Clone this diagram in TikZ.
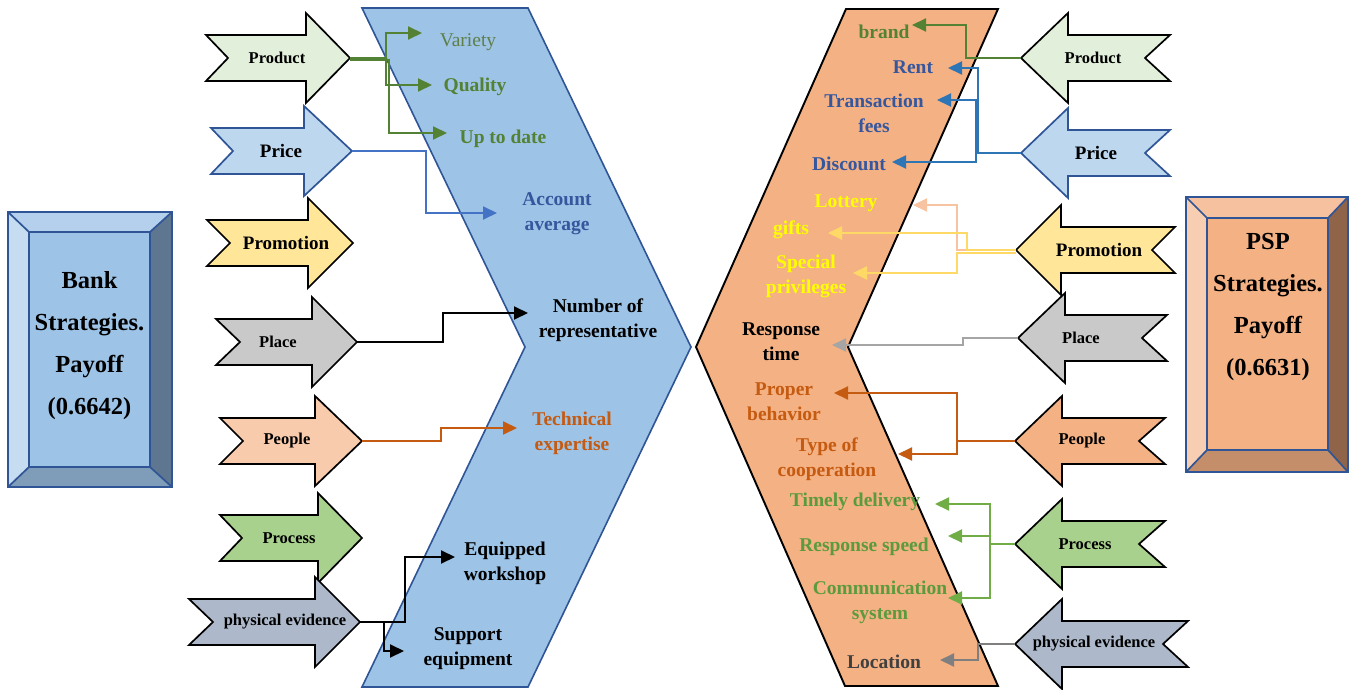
\documentclass[tikz,border=0pt]{standalone}
\usepackage{fontspec}
\setmainfont{Liberation Serif}
\usetikzlibrary{arrows.meta}
\definecolor{cBlueFill}{HTML}{9DC3E6}
\definecolor{cBlueLine}{HTML}{2F5597}
\definecolor{cOrFill}{HTML}{F4B183}
\definecolor{cGreenD}{HTML}{548235}
\definecolor{cVariety}{HTML}{5E7F4A}
\definecolor{cBlueTxt}{HTML}{36579E}
\definecolor{cPriceL}{HTML}{4472C4}
\definecolor{cPriceR}{HTML}{2E75B6}
\definecolor{cOrange}{HTML}{C55A11}
\definecolor{cGreenR}{HTML}{5B9B3D}
\definecolor{cGreenC}{HTML}{70AD47}
\definecolor{cYellowT}{HTML}{FFFF00}
\definecolor{cYellowC}{HTML}{FFD966}
\definecolor{cPeach}{HTML}{F7C3A0}
\definecolor{cGrayL}{HTML}{A5A5A5}
\definecolor{cGrayD}{HTML}{7F7F7F}
\definecolor{cLoc}{HTML}{404040}
\definecolor{fProduct}{HTML}{E2EFDA}
\definecolor{fPrice}{HTML}{BDD7EE}
\definecolor{fPromo}{HTML}{FFE699}
\definecolor{fPlace}{HTML}{C9C9C9}
\definecolor{fPeopleL}{HTML}{F8CBAD}
\definecolor{fPeopleR}{HTML}{F4B183}
\definecolor{fProcess}{HTML}{A9D18E}
\definecolor{fPhys}{HTML}{ADB9CA}
\definecolor{bTopL}{HTML}{B4D0EC}
\definecolor{bLeftL}{HTML}{C6DCF1}
\definecolor{bRightL}{HTML}{5F7690}
\definecolor{bBotL}{HTML}{7F9CB8}
\definecolor{bTopR}{HTML}{F6C19E}
\definecolor{bLeftR}{HTML}{F8CEB2}
\definecolor{bRightR}{HTML}{8F6449}
\definecolor{bBotR}{HTML}{C38E69}
% #1 name, #2 back x, #3 notch x, #4 head base x, #5 tip x, #6 centre y, #7 style, #8 text x, #9 text
\newcommand{\FatArrow}[9]{%
  \draw[#7] ({#2},{#6-23}) -- ({#4},{#6-23}) -- ({#4},{#6-45}) -- ({#5},{#6})
    -- ({#4},{#6+45}) -- ({#4},{#6+23}) -- ({#2},{#6+23}) -- ({#3},{#6}) -- cycle;
  \coordinate (#1) at ({#5},{#6});
  \node[albl] (#1t) at ({#8},{#6}) {#9};
}
\begin{document}
\begin{tikzpicture}[x=1pt,y=-1pt,
  lbl/.style={font=\bfseries\fontsize{19.5}{25}\selectfont, align=center, inner sep=0pt},
  albl/.style={font=\bfseries\fontsize{16.5}{20}\selectfont, inner sep=0pt},
  boxtxt/.style={font=\bfseries\fontsize{24.5}{42}\selectfont, align=center, inner sep=0pt},
  con/.style={line width=2pt, -{Triangle[length=14pt,width=13pt]}},
  shp/.style={line width=1.7pt, line join=miter},
]
\useasboundingbox (0,0) rectangle (1353,690);

% ---------- chevrons ----------
\draw[fill=cBlueFill, draw=cBlueLine, line width=1.6pt, line join=miter]
  (362,8) -- (528,8) -- (691,347) -- (528,687) -- (362,687) -- (525,347) -- cycle;
\draw[fill=cOrFill, draw=black, line width=1.9pt, line join=miter]
  (846,9) -- (998,9) -- (848,347) -- (998,686) -- (845,686) -- (696,347) -- cycle;

% ---------- left box ----------
\fill[bTopL] (8,212) -- (172,212) -- (150,232) -- (29,232) -- cycle;
\fill[bLeftL] (8,212) -- (29,232) -- (29,467) -- (8,487) -- cycle;
\fill[bRightL] (172,212) -- (150,232) -- (150,467) -- (172,487) -- cycle;
\fill[bBotL] (8,487) -- (29,467) -- (150,467) -- (172,487) -- cycle;
\fill[cBlueFill] (29,232) rectangle (150,467);
\draw[cBlueLine, line width=1.7pt] (8,212) rectangle (172,487) (29,232) rectangle (150,467)
  (8,212) -- (29,232) (172,212) -- (150,232) (8,487) -- (29,467) (172,487) -- (150,467);
\node[boxtxt] (bank) at (89.5,346) {Bank\\Strategies.\\Payoff\\(0.6642)};

% ---------- right box ----------
\fill[bTopR] (1186,197) -- (1348,197) -- (1328,218) -- (1207,218) -- cycle;
\fill[bLeftR] (1186,197) -- (1207,218) -- (1207,450) -- (1186,472) -- cycle;
\fill[bRightR] (1348,197) -- (1328,218) -- (1328,450) -- (1348,472) -- cycle;
\fill[bBotR] (1186,472) -- (1207,450) -- (1328,450) -- (1348,472) -- cycle;
\fill[cOrFill] (1207,218) rectangle (1328,450);
\draw[cBlueLine, line width=1.7pt] (1186,197) rectangle (1348,472) (1207,218) rectangle (1328,450)
  (1186,197) -- (1207,218) (1348,197) -- (1328,218) (1186,472) -- (1207,450) (1348,472) -- (1328,450);
\node[boxtxt] (psp) at (1268,307) {PSP\\Strategies.\\Payoff\\(0.6631)};

% ---------- left fat arrows ----------
\FatArrow{Lprod}{206}{228}{306}{350}{58}{shp, fill=fProduct, draw=black}{277}{Product}
\FatArrow{Lprice}{211}{233}{304}{352}{151}{shp, fill=fPrice, draw=cBlueLine}{281}{\fontsize{19}{22}\selectfont Price}
\FatArrow{Lpromo}{207}{230}{308}{353}{243}{shp, fill=fPromo, draw=black}{286}{\fontsize{19}{22}\selectfont Promotion}
\FatArrow{Lplace}{216}{240}{312}{357}{342}{shp, fill=fPlace, draw=black}{278}{Place}
\FatArrow{Lpeople}{220}{243}{315}{362}{441}{shp, fill=fPeopleL, draw=black}{287}{People}
\FatArrow{Lproc}{220}{242}{318}{362}{538}{shp, fill=fProcess, draw=black}{289}{Process}
\FatArrow{Lphys}{189}{213}{315}{360}{622}{shp, fill=fPhys, draw=black}{285}{physical evidence}

% ---------- right fat arrows ----------
\FatArrow{Rprod}{1170}{1145}{1068}{1021}{58}{shp, fill=fProduct, draw=black}{1093}{Product}
\FatArrow{Rprice}{1170}{1145}{1068}{1021}{153}{shp, fill=fPrice, draw=cBlueLine}{1096}{\fontsize{19}{22}\selectfont Price}
\FatArrow{Rpromo}{1175}{1152}{1061}{1016}{250}{shp, fill=fPromo, draw=black}{1099}{\fontsize{19}{22}\selectfont Promotion}
\FatArrow{Rplace}{1167}{1142}{1065}{1018}{338}{shp, fill=fPlace, draw=black}{1081}{Place}
\FatArrow{Rpeople}{1165}{1139}{1062}{1015}{441}{shp, fill=fPeopleR, draw=black}{1082}{People}
\FatArrow{Rproc}{1165}{1139}{1062}{1015}{544}{shp, fill=fProcess, draw=black}{1085}{Process}
\FatArrow{Rphys}{1188}{1163}{1062}{1015}{644}{shp, fill=fPhys, draw=black}{1094}{physical evidence}

% ---------- left chevron labels ----------
\node[lbl, font=\fontsize{19.5}{25}\selectfont, text=cVariety] (variety) at (468,42) {Variety};
\node[lbl, text=cGreenD] (quality) at (475,87) {Quality};
\node[lbl, text=cGreenD] (uptodate) at (503,139) {Up to date};
\node[lbl, text=cBlueTxt] (account) at (557,214) {Account\\average};
\node[lbl] (number) at (598,320) {Number of\\representative};
\node[lbl, text=cOrange] (technical) at (572,433) {Technical\\expertise};
\node[lbl] (equipped) at (505,563) {Equipped\\workshop};
\node[lbl] (support) at (468,649) {Support\\equipment};

% ---------- right chevron labels ----------
\node[lbl, text=cGreenD] (brand) at (884,32) {brand};
\node[lbl, text=cBlueTxt] (rent) at (913,67) {Rent};
\node[lbl, text=cBlueTxt] (trans) at (874,113) {Transaction\\fees};
\node[lbl, text=cBlueTxt] (discount) at (849,164) {Discount};
\node[lbl, text=cYellowT] (lottery) at (846,203) {Lottery};
\node[lbl, text=cYellowT] (gifts) at (791,230) {gifts};
\node[lbl, text=cYellowT] (special) at (806,276) {Special\\privileges};
\node[lbl] (resp) at (781,342) {Response\\time};
\node[lbl, text=cOrange] (proper) at (784,402) {Proper\\behavior};
\node[lbl, text=cOrange] (type) at (827,459) {Type of\\cooperation};
\node[lbl, text=cGreenR] (timely) at (855,502) {Timely delivery};
\node[lbl, text=cGreenR] (rspeed) at (864,547) {Response speed};
\node[lbl, text=cGreenR] (comm) at (880,602) {Communication\\system};
\node[lbl, text=cLoc] (location) at (884,662) {Location};

% ---------- connector end points ----------
\coordinate (aVariety) at (422,33);
\coordinate (aQuality) at (432,85);
\coordinate (aUpto) at (447,133);
\coordinate (aAccount) at (497,213);
\coordinate (aNumber) at (528,313);
\coordinate (aTech) at (517,428);
\coordinate (aEquip) at (455,557);
\coordinate (aSupport) at (404,651);
\coordinate (aBrand) at (912,25);
\coordinate (aRent) at (948,68);
\coordinate (aTrans) at (937,100);
\coordinate (aDisc) at (892,162);
\coordinate (aLottery) at (913,205);
\coordinate (aGifts) at (828,233);
\coordinate (aSpecial) at (853,273);
\coordinate (aResp) at (832,345);
\coordinate (aProper) at (834,393);
\coordinate (aType) at (898,454);
\coordinate (aTimely) at (935,504);
\coordinate (aRSpeed) at (948,536);
\coordinate (aComm) at (948,598);
\coordinate (aLoc) at (940,660);

% ---------- left connectors ----------
\draw[con, cGreenD] (Lprod) -- ++(36,0) |- (aVariety);
\draw[con, cGreenD] (Lprod) -- ++(36,0) |- (aQuality);
\draw[con, cGreenD] ([yshift=-2pt]Lprod) -- ++(39,0) |- (aUpto);
\draw[con, cPriceL] (Lprice) -- ++(74,0) |- (aAccount);
\draw[con, black] (Lplace) -- ++(86,0) |- (aNumber);
\draw[con, cOrange] (Lpeople) -- ++(79,0) |- (aTech);
\draw[con, black] (Lphys) -- ++(45,0) |- (aEquip);
\draw[con, black] (Lphys) -- ++(24,0) |- (aSupport);

% ---------- right connectors ----------
\draw[con, cGreenD] (Rprod) -- ++(-55,0) |- (aBrand);
\draw[con, cPriceR] (Rprice) -- ++(-43,0) |- (aRent);
\draw[con, cPriceR] (Rprice) -- ++(-45,0) |- (aTrans);
\draw[con, cPriceR] (Rprice) -- ++(-45,0) |- (aDisc);
\draw[con, cPeach] (Rpromo) -- ++(-59,0) |- (aLottery);
\draw[con, cYellowC] (Rpromo) -- ++(-49,0) |- (aGifts);
\draw[con, cYellowC] ([yshift=-3pt]Rpromo) -- ++(-59,0) |- (aSpecial);
\draw[con, cGrayL] (Rplace) -- ++(-55,0) |- (aResp);
\draw[con, cOrange] (Rpeople) -- ++(-58,0) |- (aProper);
\draw[con, cOrange] (Rpeople) -- ++(-58,0) |- (aType);
\draw[con, cGreenC] (Rproc) -- ++(-25,0) |- (aTimely);
\draw[con, cGreenC] (Rproc) -- ++(-25,0) |- (aRSpeed);
\draw[con, cGreenC] (Rproc) -- ++(-25,0) |- (aComm);
\draw[con, cGrayD] (Rphys) -- ++(-37,0) |- (aLoc);
\end{tikzpicture}
\end{document}
